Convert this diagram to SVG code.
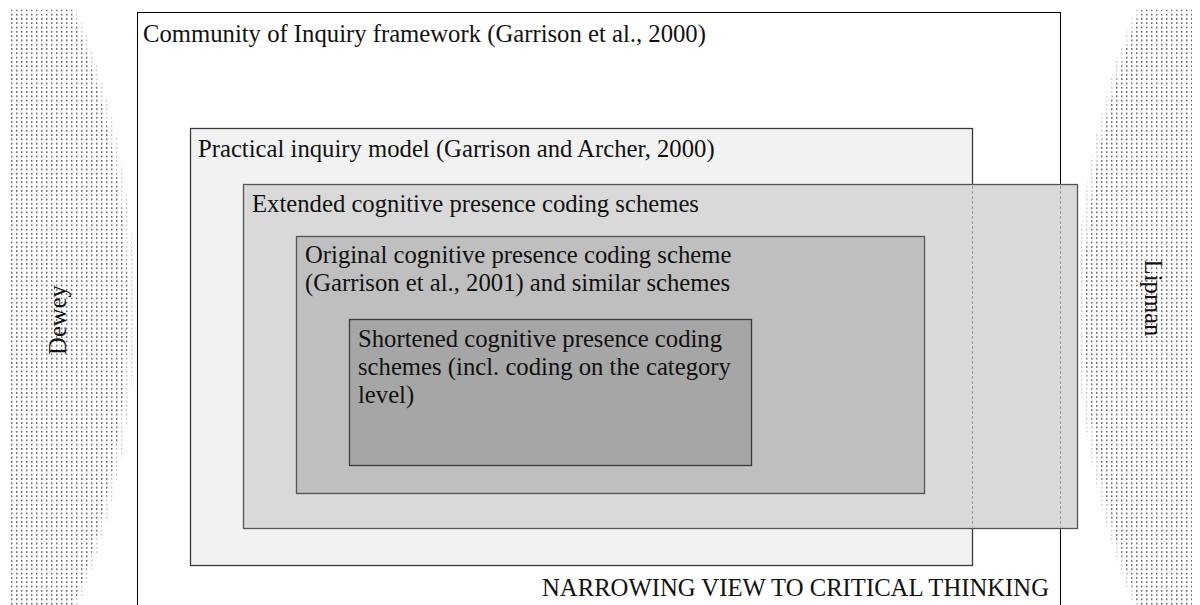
<svg xmlns="http://www.w3.org/2000/svg" width="1200" height="605" viewBox="0 0 1200 605">
  <defs>
    <pattern id="dots" x="0" y="0" width="5" height="4.3" patternUnits="userSpaceOnUse">
      <rect x="1" y="1" width="1.4" height="1.4" fill="#555"/>
    </pattern>
    <pattern id="dotsLight" x="0" y="0" width="5" height="4.3" patternUnits="userSpaceOnUse">
      <rect x="1" y="1" width="1.4" height="1.4" fill="#bdbdbd"/>
    </pattern>
  </defs>
  <style>
    text { font-family: 'Liberation Serif', 'DejaVu Serif', serif; font-size: 24.7px; fill: #111; }
    .box { stroke-width: 1.3; }
    .dash { stroke: #9a9a9a; stroke-width: 1; stroke-dasharray: 3 2; fill: none; }
  </style>
  <rect width="1200" height="605" fill="#ffffff"/>

  <g id="dewey">
    <path d="M10,8 H76 A800,800 0 0 1 76,612 H10 Z" fill="url(#dotsLight)"/>
    <path d="M10,10 H72 A831.6,831.6 0 0 1 72,610 H10 Z" fill="url(#dots)"/>
    <text font-family="Liberation Serif, serif" transform="translate(66,320) rotate(-90)" text-anchor="middle">Dewey</text>
  </g>

  <g id="lipman">
    <path d="M1192,8 H1136 A800,800 0 0 0 1136,612 H1192 Z" fill="url(#dotsLight)"/>
    <path d="M1192,10 H1140 A831.6,831.6 0 0 0 1140,610 H1192 Z" fill="url(#dots)"/>
    <text font-family="Liberation Serif, serif" transform="translate(1145,298) rotate(90)" text-anchor="middle">Lipman</text>
  </g>

  <g id="coi">
    <rect x="137.5" y="12.5" width="923" height="620" fill="none" stroke="#000" stroke-width="1"/>
    <text font-family="Liberation Serif, serif" x="143" y="42">Community of Inquiry framework (Garrison et al., 2000)</text>
  </g>

  <g id="practical">
    <rect class="box" x="190.5" y="128.5" width="782" height="437" fill="#f2f2f2" stroke="#3a3a3a"/>
    <text font-family="Liberation Serif, serif" x="198" y="157">Practical inquiry model (Garrison and Archer, 2000)</text>
  </g>

  <g id="extended">
    <rect class="box" x="243.5" y="184.5" width="834" height="344" fill="#d9d9d9" stroke="#555"/>
    <text font-family="Liberation Serif, serif" x="252" y="212">Extended cognitive presence coding schemes</text>
  </g>

  <g id="connectors">
    <line class="dash" x1="972.5" y1="186" x2="972.5" y2="527"/>
    <line class="dash" x1="1060.5" y1="186" x2="1060.5" y2="527"/>
  </g>

  <g id="original">
    <rect class="box" x="296.5" y="236.5" width="628" height="257" fill="#bfbfbf" stroke="#555"/>
    <text font-family="Liberation Serif, serif" x="305" y="263">Original cognitive presence coding scheme</text>
    <text font-family="Liberation Serif, serif" x="305" y="291">(Garrison et al., 2001) and similar schemes</text>
  </g>

  <g id="shortened">
    <rect class="box" x="349.5" y="319.5" width="402" height="146" fill="#a6a6a6" stroke="#3a3a3a"/>
    <text font-family="Liberation Serif, serif" x="358" y="347">Shortened cognitive presence coding</text>
    <text font-family="Liberation Serif, serif" x="358" y="375">schemes (incl. coding on the category</text>
    <text font-family="Liberation Serif, serif" x="358" y="403">level)</text>
  </g>

  <g id="narrowing">
    <text font-family="Liberation Serif, serif" x="1049" y="596" text-anchor="end">NARROWING VIEW TO CRITICAL THINKING</text>
  </g>
</svg>
